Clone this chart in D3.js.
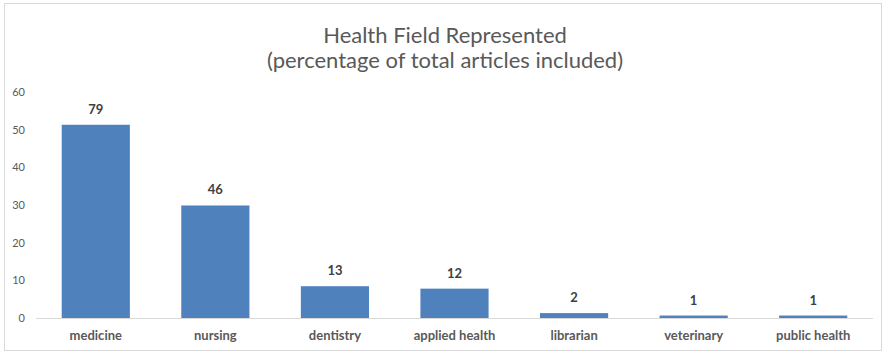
<!DOCTYPE html>
<html>
<head>
<meta charset="utf-8">
<script src="https://cdn.jsdelivr.net/npm/d3@7"></script>
<style>
  html, body { margin: 0; padding: 0; background: #fff; }
  svg { display: block; font-family: Lato, "Open Sans", sans-serif; }
</style>
</head>
<body>
<svg id="chart" width="886" height="354"></svg>
<script>
// Article counts per health field
const fields = ["medicine", "nursing", "dentistry", "applied health", "librarian", "veterinary", "public health"];
const counts = [79, 46, 13, 12, 2, 1, 1];
const yTicks = [0, 10, 20, 30, 40, 50, 60];
const titleLines = ["Health Field Represented", "(percentage of total articles included)"];

const total = d3.sum(counts);
const pct = counts.map(c => c / total * 100);

const W = 886, H = 354;
const margin = { left: 36, right: 13, top: 92, bottom: 36 };
const svg = d3.select("#chart");

// chart frame
svg.append("rect")
  .attr("x", 4.5).attr("y", 3.5)
  .attr("width", 877).attr("height", 347)
  .attr("fill", "#fff").attr("stroke", "#d9d9d9");

const x = d3.scaleBand()
  .domain(fields)
  .range([margin.left, W - margin.right])
  .paddingInner(0.43)
  .paddingOuter(0.215);

const y = d3.scaleLinear()
  .domain([0, 60])
  .range([H - margin.bottom, margin.top]);

// title
svg.append("g").selectAll("text")
  .data(titleLines)
  .join("text")
  .attr("x", 445)
  .attr("y", (d, i) => 43 + i * 25)
  .attr("text-anchor", "middle")
  .attr("fill", "#595959")
  .attr("font-size", 22)
  .text(d => d);

// y axis (labels only)
const yAxis = d3.axisLeft(y).tickValues(yTicks).tickSize(0).tickPadding(0);
const gy = svg.append("g")
  .attr("transform", `translate(25,0)`)
  .call(yAxis);
gy.select(".domain").remove();
gy.selectAll("text")
  .attr("fill", "#595959")
  .attr("font-size", 11)
  .attr("font-family", "Lato, sans-serif");

// bars
svg.append("g").selectAll("rect")
  .data(fields)
  .join("rect")
  .attr("x", d => x(d))
  .attr("width", x.bandwidth())
  .attr("y", (d, i) => y(pct[i]))
  .attr("height", (d, i) => y(0) - y(pct[i]))
  .attr("fill", "#4f81bd");

// baseline
svg.append("line")
  .attr("x1", margin.left).attr("x2", W - margin.right)
  .attr("y1", y(0) + 0.5).attr("y2", y(0) + 0.5)
  .attr("stroke", "#d9d9d9");

// x axis (category labels)
const xAxis = d3.axisBottom(x).tickSize(0).tickPadding(0);
const gx = svg.append("g")
  .attr("transform", `translate(0,${y(0) + 13})`)
  .call(xAxis);
gx.select(".domain").remove();
gx.selectAll("text")
  .attr("fill", "#595959")
  .attr("font-size", 13)
  .attr("font-weight", "bold")
  .attr("font-family", "Lato, sans-serif");

// value labels
svg.append("g").selectAll("text")
  .data(fields)
  .join("text")
  .attr("x", d => x(d) + x.bandwidth() / 2)
  .attr("y", (d, i) => y(pct[i]) - 11)
  .attr("text-anchor", "middle")
  .attr("fill", "#404040")
  .attr("font-size", 13)
  .attr("font-weight", "bold")
  .text((d, i) => counts[i]);
</script>
</body>
</html>
